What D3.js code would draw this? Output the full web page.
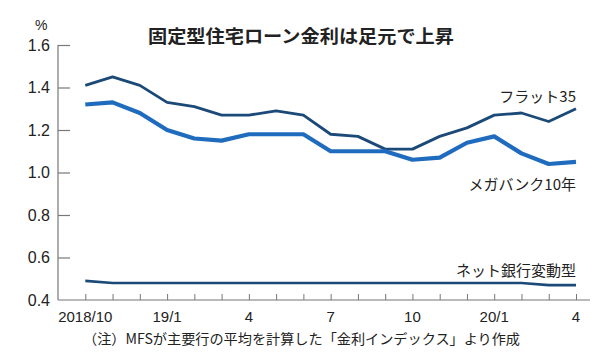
<!DOCTYPE html>
<html><head><meta charset="utf-8">
<script src="https://cdn.jsdelivr.net/npm/d3@7"></script>
<style>
body{margin:0;background:#fff;}
text{font-family:"Liberation Sans Narrow","Liberation Sans","Noto Sans CJK JP",sans-serif;fill:#222;}
.jp{font-family:"Noto Sans CJK JP",sans-serif;}
</style></head>
<body>
<svg id="c" width="600" height="356"></svg>
<script>
const months = ["2018/10","2018/11","2018/12","2019/1","2019/2","2019/3","2019/4","2019/5","2019/6","2019/7","2019/8","2019/9","2019/10","2019/11","2019/12","2020/1","2020/2","2020/3","2020/4"];
const flat35 = [1.41,1.45,1.41,1.33,1.31,1.27,1.27,1.29,1.27,1.18,1.17,1.11,1.11,1.17,1.21,1.27,1.28,1.24,1.30];
const megabank = [1.32,1.33,1.28,1.20,1.16,1.15,1.18,1.18,1.18,1.10,1.10,1.10,1.06,1.07,1.14,1.17,1.09,1.04,1.05];
const netbank = [0.49,0.48,0.48,0.48,0.48,0.48,0.48,0.48,0.48,0.48,0.48,0.48,0.48,0.48,0.48,0.48,0.48,0.47,0.47];
const xTickLabels = {"2018/10":"2018/10","2019/1":"19/1","2019/4":"4","2019/7":"7","2019/10":"10","2020/1":"20/1","2020/4":"4"};
const yTicks = [0.4,0.6,0.8,1.0,1.2,1.4,1.6];

const svg = d3.select("#c");
const x = d3.scalePoint().domain(months).range([85.3,576]);
const y = d3.scaleLinear().domain([0.4,1.6]).range([300,45]);
const axisColor = "#777";

// y axis
svg.append("line").attr("x1",58).attr("x2",58).attr("y1",y(1.6)).attr("y2",y(0.4)).attr("stroke",axisColor).attr("stroke-width",1.2);
const yAxis = d3.axisRight(y).tickValues(yTicks.slice(1)).tickSize(12).tickFormat("");
const gy = svg.append("g").attr("transform","translate(58,0)").call(yAxis);
gy.select(".domain").remove();
gy.selectAll("line").attr("stroke",axisColor).attr("stroke-width",1.2);
svg.selectAll(".ylab").data(yTicks).enter().append("text")
  .attr("x",50).attr("y",d=>y(d)+5.5).attr("text-anchor","end")
  .attr("font-size",16).text(d=>d.toFixed(1));
svg.append("text").attr("x",35).attr("y",30).attr("font-size",14).text("%");

// x axis
svg.append("line").attr("x1",58).attr("x2",590).attr("y1",300).attr("y2",300).attr("stroke",axisColor).attr("stroke-width",1.2);
const xAxis = d3.axisTop(x).tickSize(6).tickFormat("");
const gx = svg.append("g").attr("transform","translate(0,300)").call(xAxis);
gx.select(".domain").remove();
gx.selectAll("line").attr("stroke",axisColor).attr("stroke-width",1);
svg.selectAll(".xlab").data(Object.keys(xTickLabels)).enter().append("text")
  .attr("x",d=>x(d)).attr("y",322).attr("text-anchor","middle")
  .attr("font-size",15).text(d=>xTickLabels[d]);

// lines
const line = arr => d3.line().x((d,i)=>x(months[i])).y(d=>y(d))(arr);
svg.append("path").attr("d",line(netbank)).attr("fill","none").attr("stroke","#1b4a78").attr("stroke-width",2.6).attr("stroke-linejoin","round");
svg.append("path").attr("d",line(flat35)).attr("fill","none").attr("stroke","#1b4a78").attr("stroke-width",2.8).attr("stroke-linejoin","round");
svg.append("path").attr("d",line(megabank)).attr("fill","none").attr("stroke","#1f6cbf").attr("stroke-width",4.2).attr("stroke-linejoin","round");

// title
svg.append("text").attr("class","jp").attr("x",301).attr("y",43).attr("text-anchor","middle")
  .attr("font-size",18).attr("font-weight","bold").attr("textLength",306).attr("lengthAdjust","spacingAndGlyphs")
  .text("固定型住宅ローン金利は足元で上昇");

// series labels
svg.append("text").attr("class","jp").attr("x",576).attr("y",102).attr("text-anchor","end").attr("font-size",15).text("フラット35");
svg.append("text").attr("class","jp").attr("x",576).attr("y",190).attr("text-anchor","end").attr("font-size",15).text("メガバンク10年");
svg.append("text").attr("class","jp").attr("x",576).attr("y",276).attr("text-anchor","end").attr("font-size",15).text("ネット銀行変動型");

// footnote
svg.append("text").attr("class","jp").attr("x",83).attr("y",344).attr("font-size",14)
  .attr("textLength",437).attr("lengthAdjust","spacingAndGlyphs")
  .text("（注）MFSが主要行の平均を計算した「金利インデックス」より作成");
</script>
</body></html>
